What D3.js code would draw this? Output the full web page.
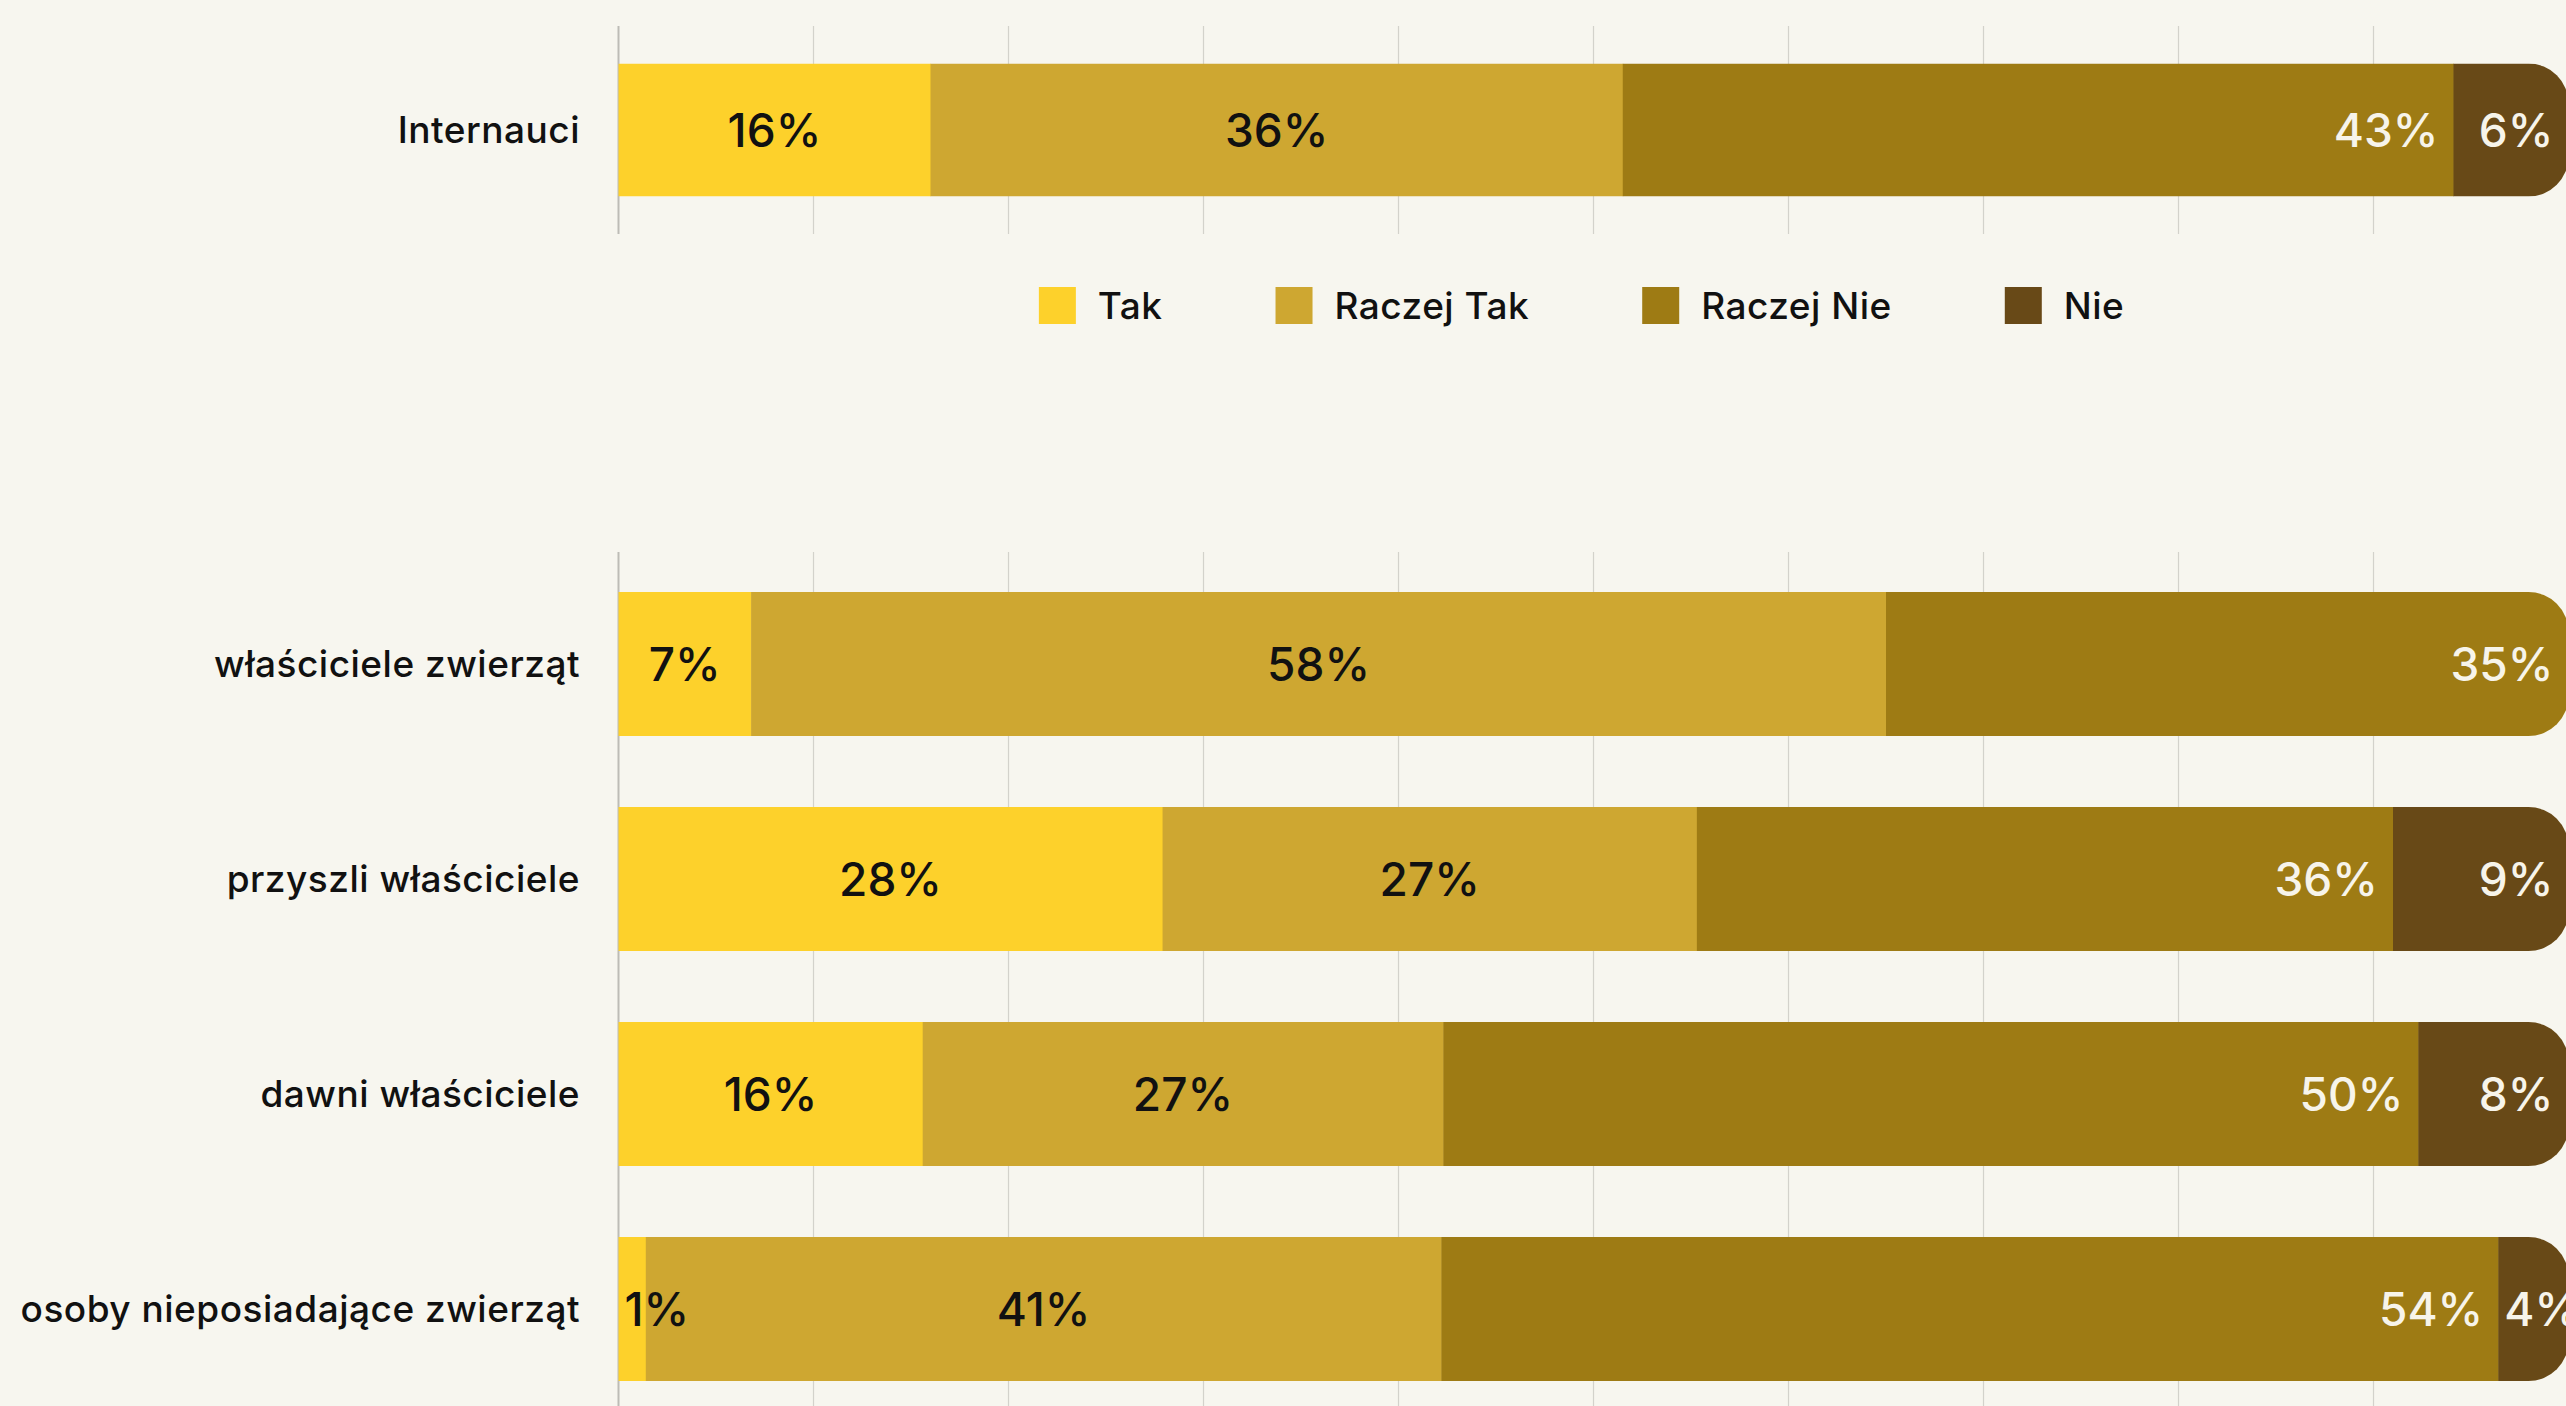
<!DOCTYPE html>
<html>
<head>
<meta charset="utf-8">
<script src="https://cdn.jsdelivr.net/npm/d3@7"></script>
<style>
  html, body { margin: 0; padding: 0; background: #f7f6ef; }
  svg { display: block; font-family: Inter, "Noto Sans", sans-serif; }
</style>
</head>
<body>
<div id="chart"></div>
<script>
// groups: first one sits alone in the top panel
const groups = ["Internauci", "właściciele zwierząt", "przyszli właściciele", "dawni właściciele", "osoby nieposiadające zwierząt"];
const seriesNames = ["Tak", "Raczej Tak", "Raczej Nie", "Nie"];
const tak = [16.0, 6.8, 27.9, 15.6, 1.4];
const raczejTak = [35.5, 58.2, 27.4, 26.7, 40.8];
const raczejNie = [42.6, 35.0, 35.7, 50.0, 54.2];
const nie = [5.9, 0, 9.0, 7.7, 3.6];
const gridTicks = [0, 10, 20, 30, 40, 50, 60, 70, 80, 90, 100];

const colors = ["#fdd12b", "#cea731", "#9e7b14", "#684917"];
const labelColors = ["#111", "#111", "#f7f4ea", "#f7f4ea"];

const width = 2566, height = 1406;
const svg = d3.select("#chart").append("svg").attr("width", width).attr("height", height);
svg.append("rect").attr("width", width).attr("height", height).attr("fill", "#f7f6ef");

const rows = groups.map((g, i) => ({
  group: g,
  "Tak": tak[i], "Raczej Tak": raczejTak[i], "Raczej Nie": raczejNie[i], "Nie": nie[i],
}));
const stacked = d3.stack().keys(seriesNames)(rows);

const x = d3.scaleLinear().domain([0, 100]).range([618.5, 2568.5]);

const panels = [
  { cats: groups.slice(0, 1), range: [26, 234], grid: [26, 234], padding: 0.22 },
  { cats: groups.slice(1), range: [549, 1424], grid: [552, 1406], padding: null },
];

panels.forEach((p, pi) => {
  const y = d3.scaleBand().domain(p.cats).range(p.range);
  if (p.padding !== null) y.padding(p.padding);
  else y.paddingInner(0.33).paddingOuter(0.2);

  const g = svg.append("g");

  // grid lines
  g.selectAll("line.grid").data(gridTicks).join("line")
    .attr("class", "grid")
    .attr("x1", (d) => x(d)).attr("x2", (d) => x(d))
    .attr("y1", p.grid[0]).attr("y2", p.grid[1])
    .attr("stroke", (d) => (d === 0 ? "#bdbcb6" : "#d3d2cb"))
    .attr("stroke-width", (d) => (d === 0 ? 2 : 1.2));

  p.cats.forEach((cat, ci) => {
    const clipId = `clip-${pi}-${ci}`;
    svg.append("clipPath").attr("id", clipId).append("rect")
      .attr("x", x(0) - 60).attr("y", y(cat))
      .attr("width", x(100) - x(0) + 60).attr("height", y.bandwidth())
      .attr("rx", 40).attr("ry", 40);

    const rowIdx = groups.indexOf(cat);
    const barG = g.append("g").attr("clip-path", `url(#${clipId})`);
    stacked.forEach((s, si) => {
      const d = s[rowIdx];
      if (d[1] - d[0] <= 0) return;
      barG.append("rect")
        .attr("x", x(d[0])).attr("y", y(cat))
        .attr("width", x(d[1]) - x(d[0]) + 0.5).attr("height", y.bandwidth())
        .attr("fill", colors[si]);
    });

    // value labels
    stacked.forEach((s, si) => {
      const d = s[rowIdx];
      const v = d[1] - d[0];
      if (v <= 0) return;
      const x0 = x(d[0]), x1 = x(d[1]);
      const t = g.append("text")
        .attr("y", y(cat) + y.bandwidth() / 2)
        .attr("dy", "0.36em")
        .attr("fill", labelColors[si])
        .attr("font-size", 46)
        .attr("font-weight", 500)
        .text(Math.round(v) + "%");
      const tw = t.node().getComputedTextLength();
      const segW = x1 - x0;
      if (si < 2) {
        if (segW >= tw + 12) t.attr("x", (x0 + x1) / 2).attr("text-anchor", "middle");
        else t.attr("x", x0 + 6).attr("text-anchor", "start");
      } else {
        if (segW >= tw + 21) t.attr("x", x1 - 15).attr("text-anchor", "end");
        else t.attr("x", x0 + 6).attr("text-anchor", "start");
      }
    });

    // category label
    g.append("text")
      .attr("x", 580).attr("y", y(cat) + y.bandwidth() / 2)
      .attr("dy", "0.36em")
      .attr("text-anchor", "end")
      .attr("fill", "#111")
      .attr("font-size", 37)
      .attr("font-weight", 500)
      .attr("letter-spacing", 0.5)
      .text(cat);
  });
});

// legend
const legend = svg.append("g");
let lx = 0;
seriesNames.forEach((name, i) => {
  const item = legend.append("g").attr("transform", `translate(${lx},0)`);
  item.append("rect").attr("x", 0).attr("y", 287).attr("width", 37).attr("height", 37).attr("fill", colors[i]);
  const t = item.append("text")
    .attr("x", 59).attr("y", 305.5).attr("dy", "0.36em")
    .attr("fill", "#111").attr("font-size", 37).attr("font-weight", 500)
    .attr("letter-spacing", 0.5)
    .text(name);
  lx += 59 + t.node().getComputedTextLength() + 113;
});
const legendW = lx - 113;
legend.attr("transform", `translate(${1581.6 - legendW / 2},0)`);
</script>
</body>
</html>
